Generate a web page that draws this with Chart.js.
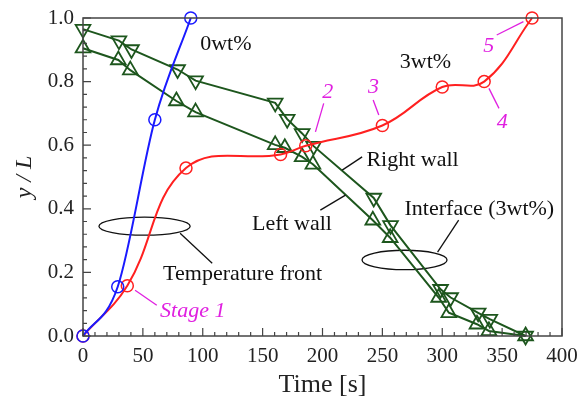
<!DOCTYPE html>
<html lang="en">
<head>
  <meta charset="UTF-8">
  <title>Interface and temperature front</title>
  <script src="https://cdn.jsdelivr.net/npm/chart.js"></script>
  <style>
    body { margin: 0; background: #fff; }
    #wrap { width: 577px; height: 398px; }
  </style>
</head>
<body>
  <div id="wrap"><canvas id="chart" width="577" height="398"></canvas></div>

  <script>
    // temperature front, 0wt%
    const time0 = [0, 29, 60, 90];
    const front0 = [0, 0.155, 0.68, 1.0];

    // temperature front, 3wt%
    const time3 = [0, 37, 86, 165, 186, 250, 300, 335, 375];
    const front3 = [0, 0.158, 0.528, 0.571, 0.598, 0.662, 0.783, 0.80, 1.0];

    // interface (3wt%), right wall
    const timeRight = [0, 30, 40.5, 79, 94, 160.5, 170.5, 183, 192.6, 242.8, 256.8, 298.6, 307, 330, 339.7, 369.6];
    const right = [0.965, 0.929, 0.901, 0.838, 0.803, 0.733, 0.682, 0.637, 0.597, 0.434, 0.348, 0.147, 0.121, 0.073, 0.053, 0.0];

    // interface (3wt%), left wall
    const timeLeft = [0, 29.5, 39.5, 78, 94, 160.5, 168.5, 183, 192, 242, 256.5, 297, 305.5, 329, 339, 369.6];
    const left = [0.905, 0.868, 0.836, 0.739, 0.704, 0.601, 0.592, 0.563, 0.540, 0.364, 0.309, 0.121, 0.073, 0.037, 0.016, 0.0];

    const xTicks = [0, 50, 100, 150, 200, 250, 300, 350, 400];
    const yTicks = [0, 0.2, 0.4, 0.6, 0.8, 1.0];

    const serif = "'Liberation Serif', 'Times New Roman', serif";
    const green = '#1d561d';
    const magenta = '#e020e0';

    // labels: [text, x, y(baseline), italic, colour]
    const notes = [
      ['0wt%', 97.9, 0.900, false, '#111'],
      ['3wt%', 264.6, 0.842, false, '#111'],
      ['Right wall', 236.7, 0.535, false, '#111'],
      ['Left wall', 141.1, 0.333, false, '#111'],
      ['Interface (3wt%)', 268.5, 0.380, false, '#111'],
      ['Temperature front', 66.9, 0.1775, false, '#111'],
      ['Stage 1', 64.4, 0.060, true, magenta],
      ['2', 199.7, 0.747, true, magenta],
      ['3', 238.1, 0.763, true, magenta],
      ['4', 345.5, 0.653, true, magenta],
      ['5', 334.3, 0.894, true, magenta]
    ];

    // leader lines: [x1, y1, x2, y2, colour]
    const leaders = [
      [81.1, 0.3233, 107.9, 0.2288, '#111'],
      [296.1, 0.2635, 313.7, 0.3642, '#111'],
      [216.4, 0.5216, 233.1, 0.5634, '#111'],
      [198.2, 0.3957, 219.2, 0.4429, '#111'],
      [43.5, 0.1438, 61.6, 0.0966, magenta],
      [201.0, 0.7315, 194.1, 0.6421, magenta],
      [242.3, 0.7419, 247.0, 0.6947, magenta],
      [339.0, 0.7787, 347.4, 0.7158, magenta],
      [345.5, 0.9465, 367.8, 0.9884, magenta]
    ];

    // ellipses: [cx, cy, rx, ry]
    const ellipses = [
      [51.4, 0.3453, 38.1, 0.0283],
      [268.5, 0.2392, 35.5, 0.0305]
    ];

    const pts = (xs, ys) => xs.map((x, i) => ({ x: x, y: ys[i] }));

    const decorations = {
      id: 'decorations',
      beforeDatasetsDraw(chart) {
        const { ctx, scales: { x, y } } = chart;
        ctx.save();
        ctx.strokeStyle = '#111';
        ctx.lineWidth = 1.3;
        ellipses.forEach(e => {
          const cx = x.getPixelForValue(e[0]);
          const cy = y.getPixelForValue(e[1]);
          const rx = x.getPixelForValue(e[0] + e[2]) - cx;
          const ry = cy - y.getPixelForValue(e[1] + e[3]);
          ctx.beginPath();
          ctx.ellipse(cx, cy, rx, ry, 0, 0, Math.PI * 2);
          ctx.stroke();
        });
        ctx.restore();
      },
      afterDatasetsDraw(chart) {
        const { ctx, chartArea: a, scales: { x, y } } = chart;
        ctx.save();
        // frame
        ctx.strokeStyle = '#444';
        ctx.lineWidth = 1.5;
        ctx.strokeRect(a.left, a.top, a.right - a.left, a.bottom - a.top);
        // inward ticks
        ctx.lineWidth = 1.2;
        ctx.beginPath();
        for (let v = 0; v <= 400; v += 10) {
          const px = x.getPixelForValue(v);
          const len = v % 50 === 0 ? 8 : 4;
          ctx.moveTo(px, a.bottom);
          ctx.lineTo(px, a.bottom - len);
        }
        for (let i = 0; i <= 25; i++) {
          const py = y.getPixelForValue(i * 0.04);
          const len = i % 5 === 0 ? 8 : 4;
          ctx.moveTo(a.left, py);
          ctx.lineTo(a.left + len, py);
        }
        ctx.stroke();
        // leader lines
        ctx.lineWidth = 1.3;
        leaders.forEach(l => {
          ctx.strokeStyle = l[4];
          ctx.beginPath();
          ctx.moveTo(x.getPixelForValue(l[0]), y.getPixelForValue(l[1]));
          ctx.lineTo(x.getPixelForValue(l[2]), y.getPixelForValue(l[3]));
          ctx.stroke();
        });
        // labels
        ctx.textAlign = 'left';
        ctx.textBaseline = 'alphabetic';
        notes.forEach(n => {
          ctx.font = (n[3] ? 'italic ' : '') + '22px ' + serif;
          ctx.fillStyle = n[4];
          ctx.fillText(n[0], x.getPixelForValue(n[1]), y.getPixelForValue(n[2]));
        });
        ctx.restore();
      }
    };

    new Chart(document.getElementById('chart'), {
      type: 'line',
      data: {
        datasets: [
          {
            label: '0wt%',
            data: pts(time0, front0),
            borderColor: '#1a1aff',
            borderWidth: 2,
            cubicInterpolationMode: 'monotone',
            pointStyle: 'circle',
            pointRadius: 6,
            pointBorderWidth: 1.5,
            pointBorderColor: '#1a1aff',
            pointBackgroundColor: 'rgba(0,0,0,0)'
          },
          {
            label: '3wt%',
            data: pts(time3, front3),
            borderColor: '#ff2020',
            borderWidth: 2,
            tension: 0.4,
            pointStyle: 'circle',
            pointRadius: 6,
            pointBorderWidth: 1.5,
            pointBorderColor: '#ff2020',
            pointBackgroundColor: 'rgba(0,0,0,0)'
          },
          {
            label: 'Right wall',
            data: pts(timeRight, right),
            borderColor: green,
            borderWidth: 2,
            tension: 0,
            pointStyle: 'triangle',
            pointRotation: 180,
            pointRadius: 8.5,
            pointBorderWidth: 1.8,
            pointBorderColor: green,
            pointBackgroundColor: 'rgba(0,0,0,0)'
          },
          {
            label: 'Left wall',
            data: pts(timeLeft, left),
            borderColor: green,
            borderWidth: 2,
            tension: 0,
            pointStyle: 'triangle',
            pointRadius: 8.5,
            pointBorderWidth: 1.8,
            pointBorderColor: green,
            pointBackgroundColor: 'rgba(0,0,0,0)'
          }
        ]
      },
      options: {
        responsive: false,
        animation: false,
        clip: false,
        layout: { padding: { top: 18, right: 15, left: 0, bottom: 0 } },
        plugins: { legend: { display: false }, tooltip: { enabled: false } },
        scales: {
          x: {
            type: 'linear',
            min: 0,
            max: 400,
            afterFit: s => { s.height = 62; s.paddingLeft = 0; s.paddingRight = 0; },
            afterBuildTicks: s => { s.ticks = xTicks.map(v => ({ value: v })); },
            grid: { display: false, drawTicks: false },
            border: { display: false },
            ticks: { padding: 8, color: '#222', font: { family: serif, size: 21 }, maxRotation: 0 },
            title: {
              display: true,
              text: 'Time [s]',
              color: '#222',
              font: { family: serif, size: 26, lineHeight: 1 },
              padding: { top: 0, bottom: 0 }
            }
          },
          y: {
            min: 0,
            max: 1,
            afterFit: s => { s.width = 83; s.paddingTop = 0; s.paddingBottom = 0; },
            afterBuildTicks: s => { s.ticks = yTicks.map(v => ({ value: v })); },
            grid: { display: false, drawTicks: false },
            border: { display: false },
            ticks: {
              padding: 9,
              color: '#222',
              font: { family: serif, size: 21 },
              callback: v => v.toFixed(1)
            },
            title: {
              display: true,
              text: 'y / L',
              color: '#222',
              font: { family: serif, size: 24, style: 'italic', lineHeight: 1 },
              padding: { top: 13, bottom: 0 }
            }
          }
        }
      },
      plugins: [decorations]
    });
  </script>
</body>
</html>
